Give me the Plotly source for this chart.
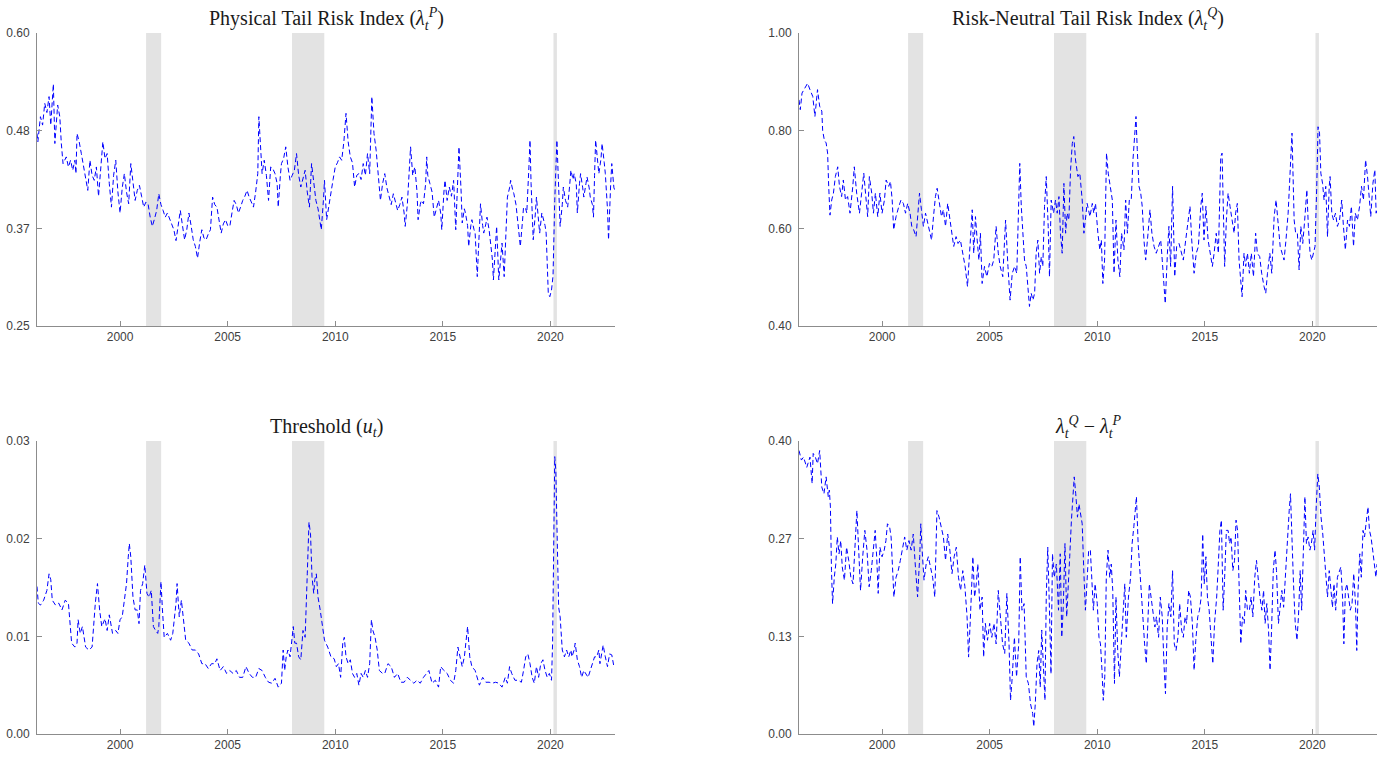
import plotly.graph_objects as go

# ---------------- data ----------------
p_years = [1996.14,1996.18,1996.3,1996.4,1996.5,1996.6,1996.7,1996.78,1996.9,1996.97,1997.1,1997.2,1997.27,1997.35,1997.5,1997.6,1997.7,1997.8,1997.9,1997.95,
1998.0,1998.1,1998.2,1998.3,1998.4,1998.5,1998.6,1998.7,1998.8,1998.9,1999.0,1999.1,1999.2,1999.3,1999.4,1999.5,1999.6,1999.7,1999.8,1999.9,
2000.0,2000.1,2000.2,2000.3,2000.4,2000.5,2000.6,2000.7,2000.8,2000.9,2001.0,2001.1,2001.2,2001.3,2001.4,2001.5,2001.6,2001.7,2001.8,2001.9,
2002.0,2002.1,2002.2,2002.3,2002.4,2002.5,2002.6,2002.7,2002.8,2002.9,2003.0,2003.1,2003.2,2003.3,2003.4,2003.5,2003.6,2003.7,2003.8,2003.9,
2004.0,2004.1,2004.2,2004.3,2004.4,2004.5,2004.6,2004.7,2004.8,2004.9,2005.0,2005.1,2005.2,2005.3,2005.4,2005.5,2005.6,2005.7,2005.8,2005.9,
2006.0,2006.1,2006.2,2006.3,2006.4,2006.45,2006.52,2006.6,2006.7,2006.8,2006.9,2007.0,2007.1,2007.2,2007.3,2007.35,2007.45,2007.5,2007.6,2007.7,2007.8,2007.9,
2008.0,2008.1,2008.2,2008.3,2008.4,2008.5,2008.6,2008.7,2008.8,2008.9,2009.0,2009.1,2009.2,2009.3,2009.35,2009.45,2009.5,2009.6,2009.7,2009.8,2009.9,
2010.0,2010.1,2010.2,2010.3,2010.4,2010.5,2010.6,2010.7,2010.8,2010.9,2011.0,2011.1,2011.2,2011.3,2011.4,2011.5,2011.6,2011.7,2011.8,2011.9,
2012.0,2012.1,2012.2,2012.3,2012.4,2012.5,2012.6,2012.7,2012.8,2012.9,2013.0,2013.1,2013.2,2013.25,2013.35,2013.4,2013.5,2013.6,2013.7,2013.8,2013.85,2013.95,
2014.0,2014.1,2014.2,2014.25,2014.3,2014.4,2014.5,2014.6,2014.7,2014.8,2014.9,2014.95,2015.05,2015.1,2015.2,2015.3,2015.4,2015.5,2015.6,2015.7,2015.75,2015.85,2015.9,
2016.0,2016.05,2016.15,2016.2,2016.3,2016.35,2016.45,2016.5,2016.6,2016.7,2016.75,2016.85,2016.9,2017.0,2017.05,2017.15,2017.2,2017.3,2017.35,2017.45,2017.5,2017.6,2017.7,2017.75,2017.85,2017.95,
2018.0,2018.1,2018.15,2018.25,2018.3,2018.4,2018.45,2018.55,2018.6,2018.7,2018.75,2018.85,2018.9,2019.0,2019.05,2019.1,2019.2,2019.3,2019.35,2019.45,2019.5,2019.6,2019.65,2019.75,2019.8,2019.85,2019.9,2019.97,
2020.05,2020.12,2020.2,2020.3,2020.38,2020.45,2020.55,2020.6,2020.7,2020.8,2020.9,2020.95,2021.05,2021.1,2021.2,2021.25,2021.35,2021.4,2021.5,2021.55,2021.65,2021.7,2021.8,2021.85,2021.95,
2022.0,2022.05,2022.1,2022.2,2022.25,2022.35,2022.4,2022.5,2022.55,2022.65,2022.7,2022.8,2022.85,2022.95,2023.0]
p_values = [0.480,0.470,0.500,0.490,0.516,0.505,0.524,0.490,0.539,0.468,0.514,0.500,0.468,0.444,0.452,0.440,0.448,0.436,0.448,0.432,
0.480,0.470,0.456,0.440,0.428,0.412,0.448,0.430,0.424,0.440,0.405,0.440,0.470,0.450,0.456,0.420,0.392,0.430,0.448,0.410,
0.385,0.415,0.432,0.410,0.396,0.444,0.420,0.400,0.412,0.418,0.405,0.392,0.398,0.396,0.380,0.369,0.378,0.388,0.408,0.395,
0.388,0.380,0.385,0.378,0.373,0.365,0.352,0.372,0.388,0.370,0.353,0.365,0.385,0.370,0.353,0.345,0.331,0.350,0.365,0.355,
0.353,0.360,0.365,0.404,0.395,0.392,0.375,0.361,0.372,0.377,0.370,0.369,0.385,0.400,0.395,0.385,0.392,0.400,0.405,0.412,
0.404,0.398,0.392,0.410,0.432,0.500,0.460,0.432,0.448,0.430,0.400,0.440,0.438,0.432,0.420,0.392,0.430,0.444,0.450,0.464,0.440,0.424,
0.430,0.436,0.456,0.430,0.416,0.425,0.436,0.410,0.392,0.444,0.420,0.400,0.390,0.369,0.365,0.400,0.424,0.377,0.395,0.412,0.425,
0.440,0.445,0.452,0.448,0.470,0.504,0.470,0.452,0.445,0.416,0.430,0.432,0.425,0.444,0.430,0.456,0.432,0.524,0.480,0.460,
0.430,0.400,0.420,0.432,0.415,0.404,0.395,0.408,0.398,0.388,0.395,0.404,0.385,0.369,0.395,0.416,0.464,0.430,0.440,0.410,0.377,0.395,
0.400,0.396,0.420,0.452,0.430,0.420,0.410,0.380,0.392,0.400,0.385,0.365,0.410,0.424,0.400,0.416,0.405,0.424,0.365,0.420,0.464,0.410,0.373,
0.390,0.385,0.370,0.345,0.370,0.377,0.365,0.361,0.309,0.380,0.396,0.370,0.361,0.372,0.380,0.365,0.353,0.330,0.305,0.350,0.369,0.305,0.340,0.349,0.309,0.370,
0.404,0.415,0.424,0.412,0.408,0.395,0.380,0.360,0.345,0.375,0.392,0.390,0.385,0.440,0.472,0.420,0.353,0.385,0.404,0.375,0.361,0.385,0.380,0.370,0.361,0.330,0.289,0.285,
0.293,0.310,0.400,0.472,0.410,0.369,0.395,0.416,0.400,0.392,0.420,0.436,0.425,0.432,0.420,0.385,0.420,0.432,0.415,0.404,0.420,0.428,0.415,0.404,0.395,
0.380,0.430,0.472,0.445,0.432,0.450,0.468,0.445,0.432,0.390,0.353,0.420,0.444,0.415,0.412]

q_years = [1996.14,1996.2,1996.28,1996.4,1996.54,1996.65,1996.78,1996.88,1997.0,1997.1,1997.2,1997.24,1997.32,1997.4,1997.47,1997.52,1997.58,1997.66,1997.74,1997.83,1997.94,
1998.02,1998.12,1998.2,1998.3,1998.4,1998.51,1998.64,1998.71,1998.82,1998.95,1999.05,1999.15,1999.26,1999.33,1999.41,1999.52,1999.6,1999.69,1999.8,1999.9,
2000.0,2000.11,2000.19,2000.31,2000.39,2000.47,2000.54,2000.65,2000.78,2000.88,2000.99,2001.09,2001.19,2001.3,2001.38,2001.47,2001.58,2001.66,2001.74,2001.83,2001.92,
2002.02,2002.09,2002.2,2002.3,2002.39,2002.48,2002.56,2002.67,2002.76,2002.85,2002.95,2003.05,2003.13,2003.24,2003.33,2003.44,2003.53,2003.64,2003.75,2003.86,2003.97,
2004.03,2004.12,2004.19,2004.26,2004.34,2004.42,2004.5,2004.57,2004.65,2004.76,2004.87,2004.99,2005.1,2005.19,2005.3,2005.4,2005.49,2005.61,2005.74,2005.85,2005.95,
2006.05,2006.16,2006.26,2006.36,2006.4,2006.47,2006.54,2006.62,2006.7,2006.78,2006.85,2006.93,2007.01,2007.09,2007.16,2007.24,2007.32,2007.4,2007.47,2007.55,2007.63,2007.72,2007.78,2007.86,2007.97,
2008.06,2008.14,2008.22,2008.29,2008.37,2008.45,2008.53,2008.6,2008.68,2008.76,2008.84,2008.91,2008.99,2009.1,2009.19,2009.3,2009.38,2009.46,2009.53,2009.66,2009.77,2009.84,2009.92,
2010.03,2010.12,2010.19,2010.26,2010.34,2010.43,2010.51,2010.62,2010.7,2010.78,2010.87,2010.96,2011.05,2011.13,2011.24,2011.32,2011.4,2011.49,2011.58,2011.66,2011.74,2011.8,2011.86,2011.94,
2012.02,2012.09,2012.17,2012.25,2012.36,2012.45,2012.54,2012.64,2012.74,2012.84,2012.95,2013.02,2013.1,2013.16,2013.26,2013.33,2013.41,2013.5,2013.6,2013.69,2013.8,2013.91,
2014.0,2014.11,2014.22,2014.31,2014.39,2014.5,2014.6,2014.7,2014.81,2014.88,2014.96,2015.05,2015.15,2015.24,2015.35,2015.43,2015.53,2015.63,2015.74,2015.8,2015.86,2015.92,
2016.0,2016.08,2016.17,2016.25,2016.36,2016.43,2016.51,2016.59,2016.67,2016.73,2016.82,2016.9,2016.98,2017.07,2017.16,2017.26,2017.36,2017.44,2017.55,2017.64,2017.75,2017.83,2017.91,
2018.02,2018.11,2018.22,2018.31,2018.4,2018.5,2018.59,2018.68,2018.77,2018.87,2018.96,2019.05,2019.15,2019.22,2019.3,2019.38,2019.46,2019.55,2019.64,2019.74,2019.81,2019.89,2019.97,
2020.05,2020.12,2020.2,2020.26,2020.33,2020.39,2020.47,2020.54,2020.62,2020.7,2020.78,2020.82,2020.9,2020.98,2021.07,2021.16,2021.26,2021.36,2021.44,2021.53,2021.63,2021.72,2021.81,2021.91,2021.99,
2022.09,2022.19,2022.28,2022.37,2022.47,2022.56,2022.64,2022.71,2022.81,2022.9,2022.96,2023.0]
q_values = [0.863,0.843,0.877,0.887,0.897,0.884,0.870,0.829,0.884,0.850,0.840,0.800,0.780,0.775,0.754,0.686,0.627,0.658,0.672,0.706,0.726,
0.686,0.665,0.699,0.658,0.665,0.631,0.686,0.726,0.672,0.631,0.672,0.713,0.658,0.624,0.706,0.672,0.631,0.672,0.624,0.672,
0.631,0.658,0.699,0.686,0.696,0.658,0.597,0.624,0.645,0.658,0.651,0.631,0.651,0.631,0.604,0.597,0.583,0.631,0.672,0.638,0.604,
0.631,0.617,0.590,0.576,0.624,0.665,0.682,0.645,0.624,0.638,0.604,0.651,0.624,0.590,0.563,0.583,0.569,0.576,0.549,0.522,0.481,
0.522,0.590,0.638,0.549,0.624,0.576,0.535,0.590,0.487,0.522,0.501,0.528,0.522,0.535,0.604,0.549,0.522,0.501,0.617,0.522,0.453,
0.508,0.522,0.508,0.645,0.733,0.645,0.590,0.535,0.522,0.481,0.440,0.467,0.453,0.467,0.549,0.576,0.508,0.542,0.522,0.645,0.706,0.604,0.501,0.658,0.631,
0.658,0.631,0.665,0.590,0.549,0.692,0.590,0.631,0.617,0.720,0.774,0.788,0.740,0.706,0.713,0.658,0.590,0.631,0.651,0.624,0.651,0.631,0.651,
0.590,0.556,0.576,0.487,0.535,0.754,0.713,0.686,0.658,0.508,0.617,0.535,0.501,0.590,0.556,0.658,0.590,0.658,0.658,0.740,0.781,0.829,0.761,0.686,
0.672,0.645,0.576,0.535,0.590,0.638,0.590,0.563,0.549,0.563,0.576,0.535,0.487,0.446,0.549,0.604,0.522,0.686,0.501,0.563,0.569,0.549,
0.535,0.576,0.617,0.645,0.576,0.508,0.549,0.563,0.645,0.672,0.576,0.645,0.576,0.549,0.522,0.549,0.590,0.549,0.747,0.754,0.645,0.522,
0.617,0.672,0.645,0.617,0.590,0.631,0.651,0.535,0.481,0.460,0.549,0.522,0.549,0.508,0.549,0.501,0.590,0.549,0.542,0.508,0.481,0.467,0.508,
0.549,0.508,0.624,0.658,0.617,0.563,0.549,0.535,0.576,0.631,0.713,0.795,0.617,0.590,0.590,0.515,0.604,0.569,0.617,0.679,0.604,0.549,0.535,
0.549,0.563,0.686,0.808,0.795,0.713,0.692,0.658,0.686,0.583,0.686,0.706,0.631,0.617,0.631,0.604,0.617,0.658,0.604,0.556,0.617,0.604,0.645,0.563,0.631,
0.617,0.645,0.686,0.658,0.740,0.706,0.658,0.624,0.692,0.720,0.631,0.638]

u_years = [1996.14,1996.2,1996.3,1996.45,1996.6,1996.7,1996.78,1996.85,1997.0,1997.15,1997.3,1997.45,1997.6,1997.75,1997.9,
1998.0,1998.05,1998.15,1998.25,1998.4,1998.55,1998.7,1998.85,1998.95,1999.05,1999.15,1999.3,1999.4,1999.5,1999.65,1999.8,1999.9,
2000.0,2000.1,2000.2,2000.3,2000.38,2000.43,2000.5,2000.6,2000.7,2000.8,2000.88,2000.95,2001.05,2001.15,2001.25,2001.35,2001.45,2001.55,2001.65,2001.75,2001.8,2001.85,2001.9,2001.97,
2002.05,2002.2,2002.35,2002.45,2002.6,2002.65,2002.75,2002.85,2002.95,2003.05,2003.2,2003.35,2003.5,2003.65,2003.8,2003.95,
2004.1,2004.25,2004.4,2004.5,2004.65,2004.8,2004.95,2005.1,2005.25,2005.4,2005.55,2005.7,2005.85,
2006.0,2006.15,2006.3,2006.45,2006.6,2006.75,2006.9,2007.05,2007.2,2007.35,2007.5,2007.58,2007.65,2007.72,2007.8,2007.9,
2008.0,2008.05,2008.12,2008.2,2008.3,2008.4,2008.5,2008.6,2008.7,2008.78,2008.85,2008.92,2009.0,2009.05,2009.12,2009.2,2009.3,2009.4,2009.5,2009.65,2009.8,2009.95,
2010.05,2010.15,2010.25,2010.35,2010.42,2010.5,2010.6,2010.7,2010.8,2010.9,2011.0,2011.1,2011.2,2011.3,2011.4,2011.5,2011.6,2011.68,2011.75,2011.85,2011.95,
2012.05,2012.2,2012.3,2012.45,2012.6,2012.75,2012.9,2013.05,2013.2,2013.35,2013.5,2013.65,2013.8,2013.95,
2014.1,2014.25,2014.35,2014.5,2014.65,2014.8,2014.9,2015.05,2015.2,2015.35,2015.5,2015.6,2015.7,2015.8,2015.9,
2016.0,2016.1,2016.15,2016.25,2016.35,2016.5,2016.6,2016.7,2016.85,2017.0,2017.15,2017.3,2017.45,2017.6,2017.75,2017.9,
2018.0,2018.1,2018.2,2018.35,2018.5,2018.65,2018.75,2018.85,2018.95,2019.05,2019.15,2019.25,2019.35,2019.45,2019.55,2019.65,2019.75,2019.85,2019.95,
2020.05,2020.1,2020.15,2020.2,2020.25,2020.3,2020.38,2020.45,2020.55,2020.65,2020.75,2020.85,2020.95,
2021.0,2021.1,2021.15,2021.25,2021.35,2021.45,2021.55,2021.65,2021.75,2021.85,2021.95,
2022.05,2022.15,2022.25,2022.3,2022.4,2022.45,2022.55,2022.65,2022.75,2022.85,2022.95]
u_values = [0.0151,0.0134,0.0132,0.0137,0.0147,0.0164,0.0158,0.0137,0.0132,0.0134,0.0127,0.0137,0.0134,0.0093,0.0089,
0.0093,0.0117,0.0103,0.0110,0.0089,0.0086,0.0089,0.0134,0.0154,0.0127,0.0110,0.0118,0.0106,0.0122,0.0103,0.0106,0.0103,
0.0117,0.0120,0.0137,0.0154,0.0181,0.0195,0.0181,0.0140,0.0127,0.0127,0.0113,0.0147,0.0154,0.0173,0.0144,0.0140,0.0147,0.0110,0.0106,0.0103,0.0110,0.0127,0.0156,0.0127,
0.0099,0.0103,0.0096,0.0103,0.0134,0.0154,0.0120,0.0137,0.0113,0.0096,0.0093,0.0086,0.0086,0.0082,0.0072,0.0072,
0.0067,0.0072,0.0072,0.0077,0.0065,0.0069,0.0062,0.0065,0.0062,0.0065,0.0058,0.0058,0.0069,
0.0062,0.0058,0.0058,0.0067,0.0065,0.0058,0.0053,0.0052,0.0057,0.0048,0.0052,0.0086,0.0065,0.0079,0.0086,0.0079,
0.0099,0.0110,0.0093,0.0093,0.0079,0.0076,0.0106,0.0099,0.0164,0.0217,0.0205,0.0161,0.0144,0.0158,0.0164,0.0140,0.0127,0.0110,0.0096,0.0089,0.0079,0.0077,
0.0069,0.0072,0.0058,0.0093,0.0099,0.0079,0.0072,0.0076,0.0062,0.0058,0.0062,0.0050,0.0062,0.0058,0.0065,0.0058,0.0072,0.0117,0.0106,0.0099,0.0086,
0.0065,0.0062,0.0062,0.0072,0.0069,0.0058,0.0062,0.0053,0.0053,0.0058,0.0055,0.0052,0.0055,0.0052,
0.0058,0.0062,0.0065,0.0052,0.0055,0.0048,0.0069,0.0065,0.0062,0.0055,0.0052,0.0065,0.0089,0.0079,0.0069,
0.0079,0.0099,0.0110,0.0079,0.0069,0.0065,0.0058,0.0050,0.0058,0.0053,0.0053,0.0052,0.0053,0.0052,0.0048,0.0058,
0.0052,0.0069,0.0062,0.0055,0.0055,0.0053,0.0065,0.0079,0.0082,0.0072,0.0058,0.0052,0.0069,0.0058,0.0072,0.0076,0.0065,0.0058,0.0062,
0.0055,0.0093,0.0229,0.0284,0.0270,0.0202,0.0130,0.0120,0.0086,0.0079,0.0086,0.0079,0.0086,
0.0079,0.0086,0.0093,0.0076,0.0069,0.0058,0.0065,0.0062,0.0058,0.0065,0.0072,
0.0079,0.0079,0.0086,0.0072,0.0086,0.0091,0.0079,0.0069,0.0082,0.0081,0.0069]

d_years = [1996.14,1996.25,1996.35,1996.5,1996.65,1996.75,1996.8,1996.9,1997.0,1997.1,1997.2,1997.3,1997.4,1997.5,1997.55,1997.6,1997.65,1997.7,1997.78,1997.85,1997.92,
1998.0,1998.08,1998.15,1998.25,1998.35,1998.45,1998.55,1998.65,1998.75,1998.83,1998.9,1999.0,1999.1,1999.2,1999.3,1999.4,1999.5,1999.6,1999.68,1999.75,1999.82,1999.9,
2000.0,2000.1,2000.18,2000.25,2000.35,2000.42,2000.5,2000.55,2000.65,2000.75,2000.85,2000.95,2001.05,2001.15,2001.25,2001.35,2001.45,2001.55,2001.65,2001.75,2001.8,2001.88,2001.95,
2002.05,2002.15,2002.25,2002.35,2002.45,2002.55,2002.65,2002.75,2002.85,2002.95,2003.05,2003.15,2003.25,2003.35,2003.45,2003.55,2003.65,2003.75,2003.85,2003.95,
2004.02,2004.1,2004.15,2004.22,2004.3,2004.38,2004.45,2004.55,2004.65,2004.72,2004.8,2004.9,2005.0,2005.1,2005.2,2005.3,2005.4,2005.5,2005.6,2005.7,2005.8,2005.9,2005.97,
2006.05,2006.15,2006.25,2006.35,2006.42,2006.5,2006.6,2006.7,2006.8,2006.9,2007.0,2007.05,2007.12,2007.2,2007.28,2007.35,2007.42,2007.5,2007.57,2007.63,2007.7,2007.78,2007.85,2007.92,
2008.0,2008.1,2008.2,2008.28,2008.35,2008.42,2008.5,2008.58,2008.65,2008.72,2008.8,2008.88,2008.93,2009.0,2009.08,2009.15,2009.2,2009.3,2009.38,2009.45,2009.52,2009.6,2009.68,2009.75,2009.82,2009.9,
2010.0,2010.08,2010.15,2010.22,2010.28,2010.35,2010.42,2010.5,2010.58,2010.65,2010.72,2010.8,2010.87,2010.95,2011.03,2011.1,2011.2,2011.28,2011.35,2011.45,2011.55,2011.62,2011.7,2011.78,2011.82,2011.9,2011.98,
2012.05,2012.12,2012.2,2012.28,2012.35,2012.42,2012.5,2012.58,2012.68,2012.75,2012.85,2012.93,2013.02,2013.1,2013.17,2013.25,2013.33,2013.42,2013.5,2013.58,2013.66,2013.75,2013.83,2013.92,
2014.0,2014.08,2014.15,2014.25,2014.33,2014.42,2014.5,2014.58,2014.67,2014.75,2014.83,2014.9,2014.97,2015.05,2015.12,2015.2,2015.3,2015.37,2015.45,2015.55,2015.62,2015.7,2015.77,2015.85,2015.92,
2016.0,2016.08,2016.15,2016.22,2016.3,2016.38,2016.45,2016.52,2016.6,2016.67,2016.75,2016.83,2016.9,2016.98,2017.07,2017.15,2017.23,2017.32,2017.4,2017.48,2017.56,2017.65,2017.73,2017.8,2017.88,2017.96,
2018.03,2018.1,2018.18,2018.26,2018.33,2018.42,2018.5,2018.58,2018.66,2018.75,2018.83,2018.92,2018.98,2019.05,2019.12,2019.2,2019.28,2019.35,2019.43,2019.5,2019.58,2019.65,2019.72,2019.8,2019.88,2019.95,
2020.03,2020.1,2020.18,2020.25,2020.32,2020.4,2020.48,2020.56,2020.63,2020.7,2020.78,2020.85,2020.93,2021.0,2021.08,2021.16,2021.24,2021.32,2021.4,2021.46,2021.53,2021.6,2021.68,2021.76,2021.84,2021.92,
2022.0,2022.06,2022.12,2022.2,2022.27,2022.35,2022.42,2022.5,2022.58,2022.65,2022.72,2022.8,2022.88,2022.95,2023.0]
d_values = [0.387,0.374,0.378,0.364,0.378,0.342,0.383,0.378,0.369,0.387,0.337,0.328,0.351,0.324,0.333,0.310,0.223,0.178,0.214,0.232,0.269,
0.246,0.264,0.228,0.210,0.255,0.237,0.214,0.205,0.260,0.305,0.260,0.196,0.242,0.278,0.251,0.201,0.223,0.251,0.278,0.242,0.192,0.255,
0.242,0.251,0.264,0.287,0.283,0.269,0.210,0.187,0.214,0.223,0.237,0.251,0.269,0.251,0.264,0.251,0.273,0.228,0.187,0.242,0.287,0.242,0.210,
0.232,0.242,0.228,0.214,0.187,0.305,0.296,0.283,0.269,0.237,0.273,0.251,0.219,0.242,0.255,0.214,0.196,0.223,0.201,0.160,
0.105,0.155,0.187,0.242,0.187,0.205,0.232,0.169,0.187,0.105,0.151,0.128,0.151,0.132,0.151,0.123,0.196,0.160,0.123,0.110,0.192,0.123,0.046,
0.078,0.132,0.078,0.123,0.242,0.169,0.178,0.078,0.069,0.041,0.028,0.010,0.041,0.096,0.114,0.064,0.142,0.096,0.046,0.187,0.255,0.169,0.082,0.246,
0.214,0.232,0.169,0.246,0.132,0.173,0.260,0.160,0.214,0.242,0.292,0.328,0.351,0.328,0.296,0.314,0.305,0.287,0.219,0.169,0.205,0.251,0.251,0.201,0.169,0.205,
0.178,0.132,0.123,0.087,0.046,0.078,0.214,0.251,0.214,0.232,0.196,0.069,0.187,0.114,0.078,0.114,0.169,0.205,0.132,0.187,0.214,0.260,0.283,0.305,0.324,0.260,0.228,
0.196,0.160,0.123,0.096,0.151,0.205,0.187,0.169,0.146,0.160,0.132,0.187,0.160,0.096,0.055,0.146,0.178,0.160,0.223,0.123,0.114,0.132,0.178,0.142,
0.132,0.160,0.151,0.196,0.187,0.151,0.087,0.128,0.160,0.169,0.187,0.273,0.205,0.242,0.187,0.169,0.132,0.096,0.151,0.187,0.228,0.278,0.292,0.169,0.214,
0.278,0.278,0.260,0.269,0.223,0.237,0.292,0.278,0.187,0.123,0.160,0.151,0.196,0.169,0.169,0.187,0.160,0.214,0.237,0.205,0.187,0.169,0.196,0.151,0.178,0.142,
0.087,0.142,0.223,0.251,0.223,0.151,0.178,0.196,0.173,0.223,0.260,0.305,0.328,0.251,0.205,0.151,0.128,0.160,0.223,0.169,0.251,0.324,0.260,0.269,0.251,0.260,
0.278,0.251,0.314,0.355,0.337,0.296,0.273,0.242,0.214,0.187,0.223,0.196,0.173,0.205,0.169,0.214,0.223,0.228,0.187,0.123,0.196,0.205,0.187,0.169,0.178,0.219,
0.178,0.114,0.196,0.246,0.214,0.278,0.269,0.292,0.310,0.278,0.269,0.251,0.232,0.214,0.232]

rec_start = [2001.21, 2007.99, 2020.14]
rec_end = [2001.91, 2009.49, 2020.30]

x_range = [1996.14, 2023.0]
x_ticks = [2000, 2005, 2010, 2015, 2020]

p_range = [0.25, 0.60]
p_ticks = [0.25, 0.25 + 0.35 / 3, 0.25 + 0.70 / 3, 0.60]
p_ticktext = ["0.25", "0.37", "0.48", "0.60"]
q_range = [0.40, 1.00]
q_ticks = [0.40, 0.60, 0.80, 1.00]
q_ticktext = ["0.40", "0.60", "0.80", "1.00"]
u_range = [0.0, 0.03]
u_ticks = [0.0, 0.01, 0.02, 0.03]
u_ticktext = ["0.00", "0.01", "0.02", "0.03"]
d_range = [0.0, 0.40]
d_ticks = [0.0, 0.40 / 3, 0.80 / 3, 0.40]
d_ticktext = ["0.00", "0.13", "0.27", "0.40"]

titles = [
    "Physical Tail Risk Index (<i>λ</i><sub><i>t</i></sub><sup><i>P</i></sup>)",
    "Risk-Neutral Tail Risk Index (<i>λ</i><sub><i>t</i></sub><sup><i>Q</i></sup>)",
    "Threshold (<i>u</i><sub><i>t</i></sub>)",
    "<i>λ</i><sub><i>t</i></sub><sup><i>Q</i></sup> − <i>λ</i><sub><i>t</i></sub><sup><i>P</i></sup>",
]

# ---------------- layout geometry ----------------
W, H = 1394, 758
left_dom = [37 / W, 615 / W]
right_dom = [799 / W, 1377 / W]
top_dom = [1 - 326 / H, 1 - 33 / H]
bot_dom = [1 - 734 / H, 1 - 441 / H]

panels = [
    (p_years, p_values, p_range, p_ticks, p_ticktext, left_dom, top_dom),
    (q_years, q_values, q_range, q_ticks, q_ticktext, right_dom, top_dom),
    (u_years, u_values, u_range, u_ticks, u_ticktext, left_dom, bot_dom),
    (d_years, d_values, d_range, d_ticks, d_ticktext, right_dom, bot_dom),
]

fig = go.Figure()
layout = dict(
    width=W, height=H,
    margin=dict(l=0, r=0, t=0, b=0),
    paper_bgcolor="white", plot_bgcolor="white",
    showlegend=False,
    template="none",
)
shapes = []
annotations = []
axis_col = "#8c8c8c"
tick_font = dict(family="Liberation Sans, Arial, sans-serif", size=12, color="#404040")

for i, (xs, ys, yr, yt, ytt, xd, yd) in enumerate(panels):
    n = "" if i == 0 else str(i + 1)
    xa, ya = "x" + n, "y" + n
    fig.add_trace(go.Scatter(
        x=xs, y=ys, xaxis=xa, yaxis=ya, mode="lines",
        line=dict(color="#0000ff", width=1, dash="5px,3px"),
        hoverinfo="skip",
    ))
    layout["xaxis" + n] = dict(
        domain=xd, anchor=ya, range=x_range, tickmode="array", tickvals=x_ticks,
        ticks="inside", ticklen=5, tickcolor=axis_col, tickwidth=1,
        showline=True, linecolor=axis_col, linewidth=1, mirror=False,
        showgrid=False, zeroline=False, tickfont=tick_font, automargin=False,
    )
    layout["yaxis" + n] = dict(
        domain=yd, anchor=xa, range=yr, tickmode="array", tickvals=yt, ticktext=ytt,
        ticks="inside", ticklen=5, tickcolor=axis_col, tickwidth=1,
        showline=True, linecolor=axis_col, linewidth=1, mirror=False,
        showgrid=False, zeroline=False, tickfont=tick_font, automargin=False,
        ticklabelstandoff=4,
    )
    for s, e in zip(rec_start, rec_end):
        shapes.append(dict(
            type="rect", xref=xa, yref=ya + " domain", x0=s, x1=e, y0=0, y1=1,
            fillcolor="#e3e3e3", line=dict(width=0), layer="below",
        ))
    annotations.append(dict(
        text=titles[i], xref="paper", yref="paper",
        x=(xd[0] + xd[1]) / 2, y=yd[1] + 14 / H, xanchor="center", yanchor="middle",
        showarrow=False, font=dict(family="Liberation Serif, DejaVu Serif, serif", size=20, color="#1a1a1a"),
    ))

layout["shapes"] = shapes
layout["annotations"] = annotations
fig.update_layout(**layout)
fig.write_html("out.html")
